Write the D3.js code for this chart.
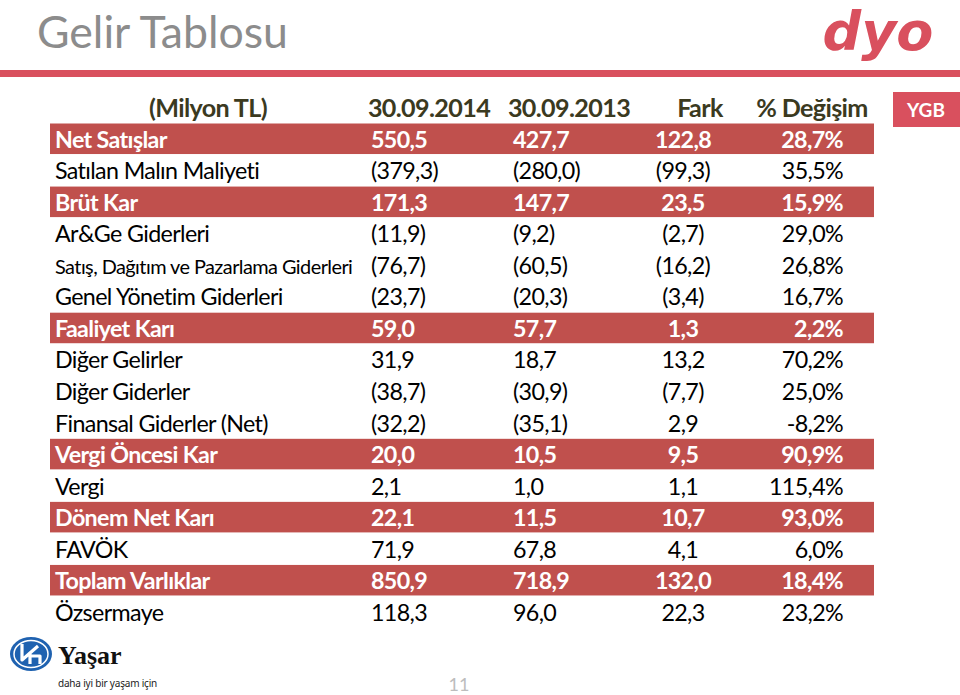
<!DOCTYPE html>
<html><head><meta charset="utf-8">
<script src="https://cdn.jsdelivr.net/npm/d3@7/dist/d3.min.js"></script>
<style>body{margin:0;background:#fff}svg{display:block}</style>
</head><body>
<script>
const title = "Gelir Tablosu";
const headers = ["(Milyon TL)", "30.09.2014", "30.09.2013", "Fark", "% Değişim"];
const labels = ["Net Satışlar","Satılan Malın Maliyeti","Brüt Kar","Ar&Ge Giderleri","Satış, Dağıtım ve Pazarlama Giderleri","Genel Yönetim Giderleri","Faaliyet Karı","Diğer Gelirler","Diğer Giderler","Finansal Giderler (Net)","Vergi Öncesi Kar","Vergi","Dönem Net Karı","FAVÖK","Toplam Varlıklar","Özsermaye"];
const v2014 = ["550,5","(379,3)","171,3","(11,9)","(76,7)","(23,7)","59,0","31,9","(38,7)","(32,2)","20,0","2,1","22,1","71,9","850,9","118,3"];
const v2013 = ["427,7","(280,0)","147,7","(9,2)","(60,5)","(20,3)","57,7","18,7","(30,9)","(35,1)","10,5","1,0","11,5","67,8","718,9","96,0"];
const fark  = ["122,8","(99,3)","23,5","(2,7)","(16,2)","(3,4)","1,3","13,2","(7,7)","2,9","9,5","1,1","10,7","4,1","132,0","22,3"];
const degisim = ["28,7%","35,5%","15,9%","29,0%","26,8%","16,7%","2,2%","70,2%","25,0%","-8,2%","90,9%","115,4%","93,0%","6,0%","18,4%","23,2%"];
const highlighted = ["Net Satışlar","Brüt Kar","Faaliyet Karı","Vergi Öncesi Kar","Dönem Net Karı","Toplam Varlıklar"];
const smallRows = ["Satış, Dağıtım ve Pazarlama Giderleri"];

const W = 960, H = 695;
const FONT = "Lato, 'Open Sans', sans-serif";
const RED = "#d9505e", BAND = "#c0504d";
const svg = d3.select("body").append("svg").attr("width", W).attr("height", H);

function measure(str, size, weight, ls) {
  const t = svg.append("text").attr("font-family", FONT).attr("font-weight", weight || "normal")
    .attr("font-size", size).attr("letter-spacing", ls || 0).text(str);
  const w = t.node().getComputedTextLength();
  t.remove();
  return w;
}
function fitSize(str, target, weight) { return 100 * target / measure(str, 100, weight); }
// font slightly larger than width-fit, tightened with letter spacing
function fitTight(str, target, weight, boost) {
  const s = fitSize(str, target, weight) * boost;
  const w = measure(str, s, weight);
  return {size: s, ls: (target - w) / str.length};
}

// Title
svg.append("text").attr("x", 37).attr("y", 48).attr("font-family", FONT)
  .attr("font-size", fitSize(title, 251)).attr("fill", "#8c8c8c").text(title);

// dyo logo (text approximation)
svg.append("text").attr("x", 878).attr("y", 50).attr("text-anchor", "middle")
  .attr("font-family", "'DejaVu Sans', sans-serif").attr("font-weight", "bold").attr("font-style", "italic")
  .attr("font-size", 54).attr("fill", RED).text("dyo");

// red rule
svg.append("rect").attr("x", 0).attr("y", 70).attr("width", W).attr("height", 7).attr("fill", RED);

// YGB box
svg.append("rect").attr("x", 893).attr("y", 92).attr("width", 67).attr("height", 35).attr("fill", RED);
svg.append("text").attr("x", 926).attr("y", 116.5).attr("text-anchor", "middle").attr("font-family", FONT)
  .attr("font-weight", "bold").attr("font-size", 19).attr("fill", "#fff").text("YGB");

// columns
const colX = d3.scaleOrdinal().domain(headers).range([208, 429, 569, 700, 812]);
const hf = fitTight(headers[0], 118, "bold", 1.06);
svg.append("g").selectAll("text").data(headers).join("text")
  .attr("x", d => colX(d)).attr("y", 117).attr("text-anchor", "middle")
  .attr("font-family", FONT).attr("font-weight", "bold").attr("font-size", hf.size).attr("letter-spacing", hf.ls)
  .attr("fill", "#3b3a1f").text(d => d);

// rows
const y = d3.scaleBand().domain(labels).range([123.5, 628]);
const bf = fitTight("Satılan Malın Maliyeti", 205, "normal", 1.07);
const sf = fitTight(smallRows[0], 298, "normal", 1.07);
const rows = labels.map((l, i) => ({label: l, a: v2014[i], b: v2013[i], c: fark[i], d: degisim[i], hl: highlighted.includes(l)}));

svg.append("g").selectAll("rect").data(rows.filter(r => r.hl)).join("rect")
  .attr("x", 50).attr("y", d => y(d.label)).attr("width", 824).attr("height", y.bandwidth() - 1)
  .attr("fill", BAND);

const cells = [
  {key: "label", x: 55, anchor: "start"},
  {key: "a", x: 371, anchor: "start"},
  {key: "b", x: 513, anchor: "start"},
  {key: "c", x: 683, anchor: "middle"},
  {key: "d", x: 843, anchor: "end"}
];
const g = svg.append("g");
rows.forEach(r => {
  const base = y(r.label) + y.bandwidth() / 2 + 8.5;
  g.selectAll(null).data(cells).join("text")
    .attr("x", c => c.x).attr("y", base).attr("text-anchor", c => c.anchor)
    .attr("font-family", FONT).attr("font-weight", r.hl ? "bold" : "normal")
    .attr("font-size", c => (c.key === "label" && smallRows.includes(r.label)) ? sf.size : bf.size)
    .attr("letter-spacing", c => (c.key === "label" && smallRows.includes(r.label)) ? sf.ls : bf.ls)
    .attr("fill", r.hl ? "#fff" : "#000").text(c => r[c.key]);
});

// Yaşar logo
const lg = svg.append("g");
lg.append("ellipse").attr("cx", 31).attr("cy", 654).attr("rx", 21).attr("ry", 17).attr("fill", "#1f62b0");
lg.append("ellipse").attr("cx", 31).attr("cy", 654).attr("rx", 17).attr("ry", 13.5).attr("fill", "none")
  .attr("stroke", "#fff").attr("stroke-width", 1.5);
lg.append("path").attr("d", "M22,644 L22,660 L38,646 M30,652 L30,664 M30,656 L40,656 L40,664")
  .attr("fill", "none").attr("stroke", "#fff").attr("stroke-width", 3.2).attr("stroke-linejoin", "round");
svg.append("text").attr("x", 58).attr("y", 664).attr("font-family", "'Liberation Serif', 'DejaVu Serif', serif")
  .attr("font-weight", "bold").attr("font-size", 26).attr("fill", "#111").text("Yaşar");
svg.append("text").attr("x", 58).attr("y", 687).attr("font-family", "'Noto Sans', sans-serif")
  .attr("font-size", 10).attr("letter-spacing", -0.2).attr("fill", "#222").text("daha iyi bir yaşam için");

// page number
svg.append("text").attr("x", 459).attr("y", 691).attr("text-anchor", "middle").attr("font-family", FONT)
  .attr("font-size", 18).attr("fill", "#bdbdbd").text("11");
</script>
</body></html>
